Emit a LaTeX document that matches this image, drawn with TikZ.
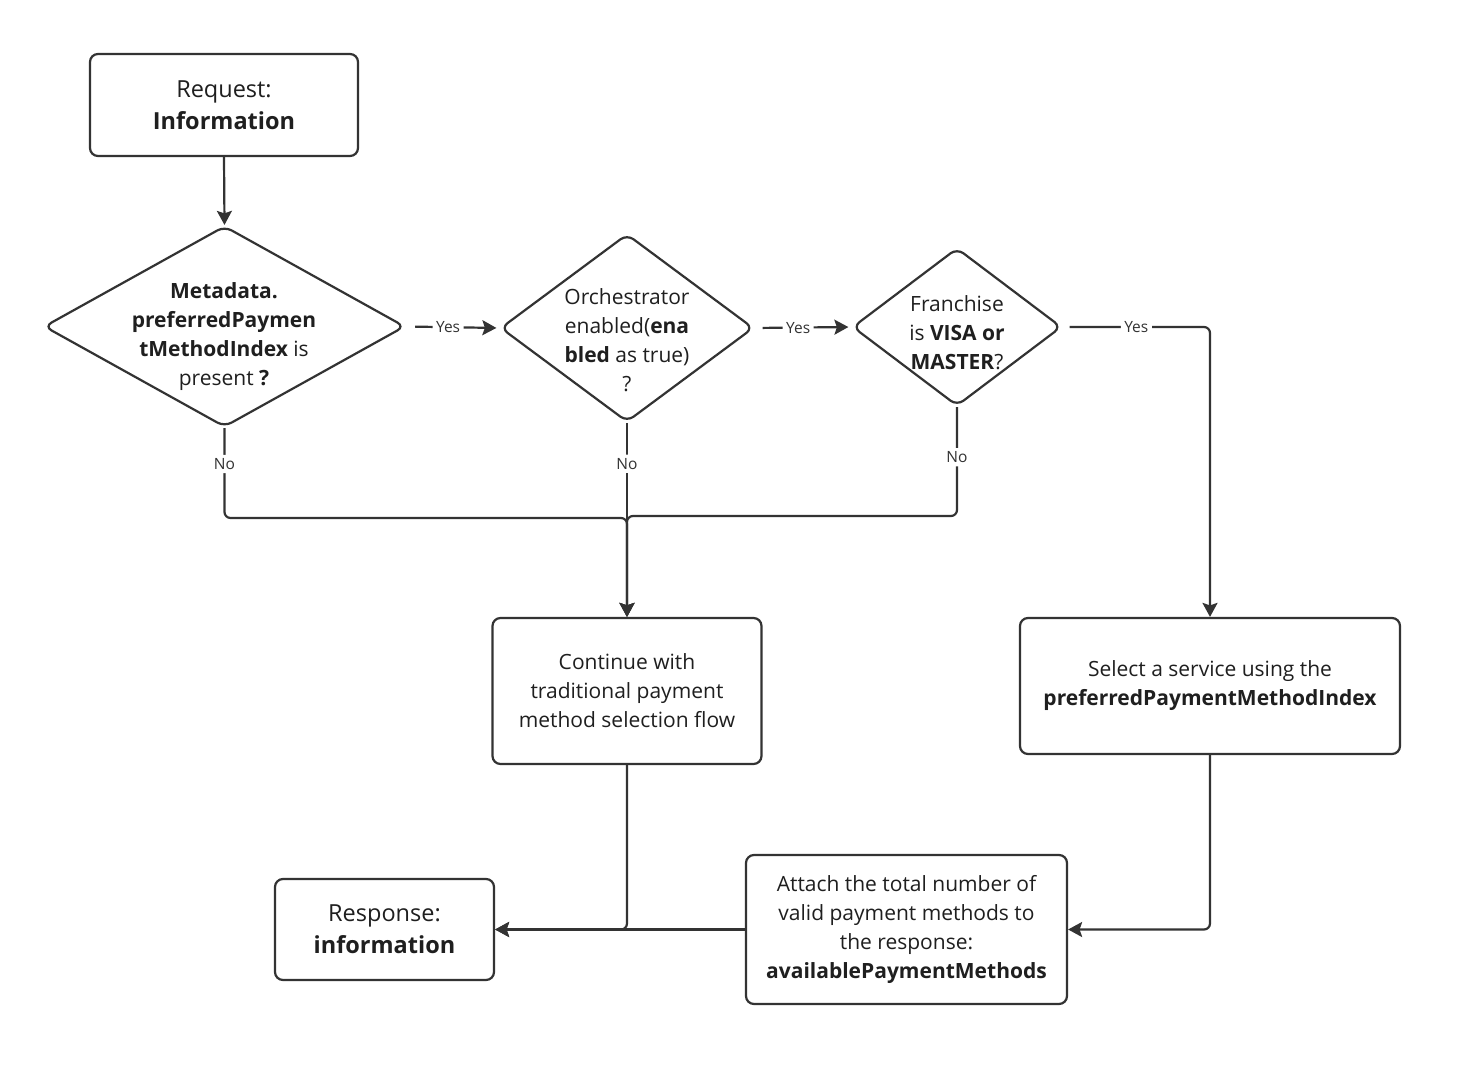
\documentclass[tikz,border=0pt]{standalone}
\usepackage{fontspec}
\setmainfont{Open Sans}
\usetikzlibrary{shapes.geometric,arrows.meta}
\definecolor{ink}{HTML}{333333}
\definecolor{txt}{HTML}{1F1F1F}
\begin{document}
\begin{tikzpicture}[x=1pt,y=-1pt,
 box/.style={draw=ink, line width=2.2pt, rounded corners=8pt, fill=white, align=center, text=txt, inner sep=0pt},
 dia/.style={diamond, draw=ink, line width=2.2pt, rounded corners=8pt, inner sep=0pt, aspect=1, fill=white},
 tx/.style={align=center, text=txt, font=\fontsize{21}{29}\selectfont, inner sep=0pt},
 big/.style={font=\fontsize{23.5}{32}\selectfont},
 mid/.style={font=\fontsize{21}{29}\selectfont},
 conn/.style={draw=ink, line width=2.2pt, rounded corners=6pt},
 arr/.style={conn, -{Stealth[length=14pt,width=15pt,inset=2.5pt]}},
 lbl/.style={fill=white, text=ink, font=\fontsize{15.5}{17}\selectfont, inner sep=3.5pt}
]
\useasboundingbox[fill=white] (0,0) rectangle (1460,1070);

% boxes
\node[box, big, minimum width=268pt, minimum height=102pt] (req) at (224,105) {Request:\\\textbf{Information}};
\node[box, mid, minimum width=269pt, minimum height=146pt] (cont) at (627,691) {Continue with\\traditional payment\\method selection flow};
\node[box, mid, minimum width=380pt, minimum height=136pt] (sel) at (1210,686) {Select a service using the\\\textbf{preferredPaymentMethodIndex}};
\node[box, big, minimum width=219pt, minimum height=101pt] (resp) at (384.5,929.5) {Response:\\\textbf{information}};
\node[box, mid, minimum width=321pt, minimum height=149pt] (att) at (906.5,929.5) {Attach the total number of\\valid payment methods to\\the response:\\\textbf{availablePaymentMethods}};

% diamonds
\node[dia, minimum width=361pt, minimum height=201pt] (d1) at (224.5,326.5) {};
\node[tx] (t1) at (224,337) {\textbf{Metadata.}\\\textbf{preferredPaymen}\\\textbf{tMethodIndex} is\\present \textbf{?}};
\node[dia, minimum width=253pt, minimum height=188pt] (d2) at (627,328) {};
\node[tx] (t2) at (627,340) {Orchestrator\\enabled(\textbf{ena}\\\textbf{bled} as true)\\?};
\node[dia, minimum width=209pt, minimum height=158pt] (d3) at (957,327) {};
\node[tx] (t3) at (957,332.5) {Franchise\\is \textbf{VISA or}\\\textbf{MASTER}?};

% connectors
\draw[arr] (req.south) -- (d1.north);
\draw[arr, shorten <=9pt, shorten >=3pt] (d1.east) -- node[lbl, pos=0.45]{Yes} (d2.west);
\draw[arr, shorten <=8pt, shorten >=3pt] (d2.east) -- node[lbl, pos=0.45]{Yes} (d3.west);
\draw[arr, shorten <=7pt] (d3.east) -| node[lbl, pos=0.25]{Yes} (sel.north);

\coordinate (j1) at (627,518);
\coordinate (j2) at (627,516);
\draw[arr] (d1.south) |- node[lbl, pos=0.2]{No} (j1) -- (cont.north);
\draw[arr] (d2.south) -- node[lbl, pos=0.21]{No} (cont.north);
\draw[arr] (d3.south) |- node[lbl, pos=0.23]{No} (j2) -- (cont.north);

\draw[arr] (cont.south) |- (resp.east);
\draw[arr] (sel.south) |- (att.east);
\draw[arr] (att.west) -- (resp.east);
\end{tikzpicture}
\end{document}
